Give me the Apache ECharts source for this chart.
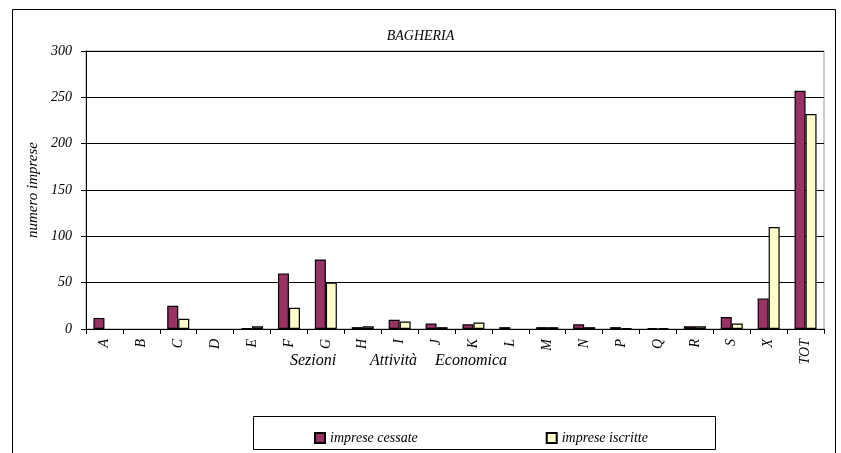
<!DOCTYPE html>
<html><head><meta charset="utf-8">
<script src="https://cdn.jsdelivr.net/npm/echarts@6/dist/echarts.min.js"></script>
<style>html,body{margin:0;padding:0;background:#fff}#c{width:841px;height:453px}</style>
</head><body><div id="c"></div>
<script>
const categories = ['A','B','C','D','E','F','G','H','I','J','K','L','M','N','P','Q','R','S','X','TOT'];
const cessate = [12,0,25,0,1,60,75,2,10,6,5,2,2,5,2,1,3,13,33,257];
const iscritte = [0,0,11,0,3,23,50,3,8,2,7,0,2,2,1,1,3,6,110,232];
const yTicks = [0,50,100,150,200,250,300];
const FONT = 'Liberation Serif';
const noZero = arr => arr.map(v => v === 0 ? null : v);
const chart = echarts.init(document.getElementById('c'));
chart.setOption({
  animation:false,
  backgroundColor:'#fff',
  textStyle:{fontFamily:FONT,fontStyle:'italic',color:'#000'},
  title:{text:'BAGHERIA',left:'center',top:24,textStyle:{fontFamily:FONT,fontStyle:'italic',fontWeight:'normal',fontSize:14,color:'#000'}},
  grid:{left:86,top:51,right:17,bottom:124,show:true,borderColor:'#999',borderWidth:1},
  legend:{left:309,top:426,itemWidth:10,itemHeight:10,itemGap:128,icon:'rect',
    textStyle:{fontFamily:FONT,fontStyle:'italic',fontSize:14,color:'#000'},
    data:['imprese cessate','imprese iscritte']},
  graphic:[
    {type:'rect',shape:{x:12.5,y:9.5,width:823,height:470},style:{fill:null,stroke:'#000',lineWidth:1},silent:true},
    {type:'rect',shape:{x:253.5,y:416.5,width:462,height:33},style:{fill:null,stroke:'#000',lineWidth:1},silent:true},
    {type:'text',left:290,top:353,style:{text:'Sezioni',font:'italic 16px "Liberation Serif"',fill:'#000'}},
    {type:'text',left:370,top:353,style:{text:'Attività',font:'italic 16px "Liberation Serif"',fill:'#000'}},
    {type:'text',left:435,top:353,style:{text:'Economica',font:'italic 16px "Liberation Serif"',fill:'#000'}}
  ],
  xAxis:{type:'category',data:categories,
    axisLine:{lineStyle:{color:'#000'}},
    axisTick:{show:true,alignWithLabel:false,length:5,lineStyle:{color:'#000'}},
    axisLabel:{rotate:90,fontFamily:FONT,fontStyle:'italic',fontSize:14,color:'#000',margin:10}},
  yAxis:{type:'value',min:0,max:300,interval:50,
    name:'numero imprese',nameLocation:'middle',nameGap:42,nameRotate:90,
    nameTextStyle:{fontFamily:FONT,fontStyle:'italic',fontSize:15,color:'#000'},
    axisLine:{show:true,lineStyle:{color:'#000'}},
    axisTick:{show:true,length:5,lineStyle:{color:'#000'}},
    axisLabel:{fontFamily:FONT,fontStyle:'italic',fontSize:14,color:'#000',margin:14,
      formatter:v=>yTicks.includes(v)?String(v):''},
    splitLine:{lineStyle:{color:'#000',width:1}}},
  series:[
    {name:'imprese cessate',type:'bar',data:noZero(cessate),barWidth:11,barGap:'0%',
      itemStyle:{color:'#993366',borderColor:'#000',borderWidth:1.2}},
    {name:'imprese iscritte',type:'bar',data:noZero(iscritte),barWidth:11,barGap:'0%',
      itemStyle:{color:'#FFFFCC',borderColor:'#000',borderWidth:1.2}}
  ]
});
</script></body></html>
